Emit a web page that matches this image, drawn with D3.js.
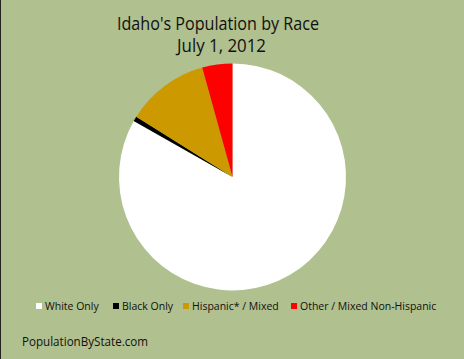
<!DOCTYPE html>
<html>
<head>
<meta charset="utf-8">
<script src="https://cdn.jsdelivr.net/npm/d3@7"></script>
<style>
  body { margin: 0; background: #b0c08e; }
  svg { display: block; }
</style>
</head>
<body>
<svg id="chart" width="464" height="359"></svg>
<script>
// values (percent)
var races = ["White Only", "Black Only", "Hispanic* / Mixed", "Other / Mixed Non-Hispanic"];
var shares = [83.2, 0.7, 11.8, 4.3];
var colors = ["#ffffff", "#000000", "#cc9900", "#ff0000"];
var titleLines = ["Idaho's Population by Race", "July 1, 2012"];
var legendX = [36, 113, 183, 291];

var svg = d3.select("#chart");
var font = "'Open Sans', 'DejaVu Sans', sans-serif";

svg.append("rect")
    .attr("width", 464).attr("height", 359)
    .attr("fill", "#b0c08e");
svg.append("line")
    .attr("x1", 0.5).attr("x2", 0.5).attr("y1", 0).attr("y2", 359)
    .attr("stroke", "#222").attr("stroke-width", 1);

// title
svg.append("text")
    .attr("x", 218).attr("y", 30)
    .attr("text-anchor", "middle")
    .attr("font-family", font).attr("font-size", 18)
    .attr("textLength", 202).attr("lengthAdjust", "spacingAndGlyphs")
    .attr("fill", "#111")
    .text(titleLines[0]);
svg.append("text")
    .attr("x", 221.5).attr("y", 52)
    .attr("text-anchor", "middle")
    .attr("font-family", font).attr("font-size", 18)
    .attr("textLength", 89).attr("lengthAdjust", "spacingAndGlyphs")
    .attr("fill", "#111")
    .text(titleLines[1]);

// pie
var data = races.map(function(r, i) { return {name: r, value: shares[i], color: colors[i]}; });
var pie = d3.pie().sort(null).value(function(d) { return d.value; });
var arc = d3.arc().innerRadius(0).outerRadius(113.5);

svg.append("g")
    .attr("transform", "translate(232.5,177)")
  .selectAll("path")
  .data(pie(data))
  .enter().append("path")
    .attr("d", arc)
    .attr("fill", function(d) { return d.data.color; });

// legend
var legend = svg.append("g");
data.forEach(function(d, i) {
    legend.append("rect")
        .attr("x", legendX[i]).attr("y", 303)
        .attr("width", 6).attr("height", 6)
        .attr("fill", d.color);
    legend.append("text")
        .attr("x", legendX[i] + 9).attr("y", 309.5)
        .attr("font-family", font).attr("font-size", 10.5)
        .attr("fill", "#111")
        .text(d.name);
});

// footer
svg.append("text")
    .attr("x", 22).attr("y", 346)
    .attr("font-family", font).attr("font-size", 12)
    .attr("textLength", 126).attr("lengthAdjust", "spacingAndGlyphs")
    .attr("fill", "#111")
    .text("PopulationByState.com");
</script>
</body>
</html>
